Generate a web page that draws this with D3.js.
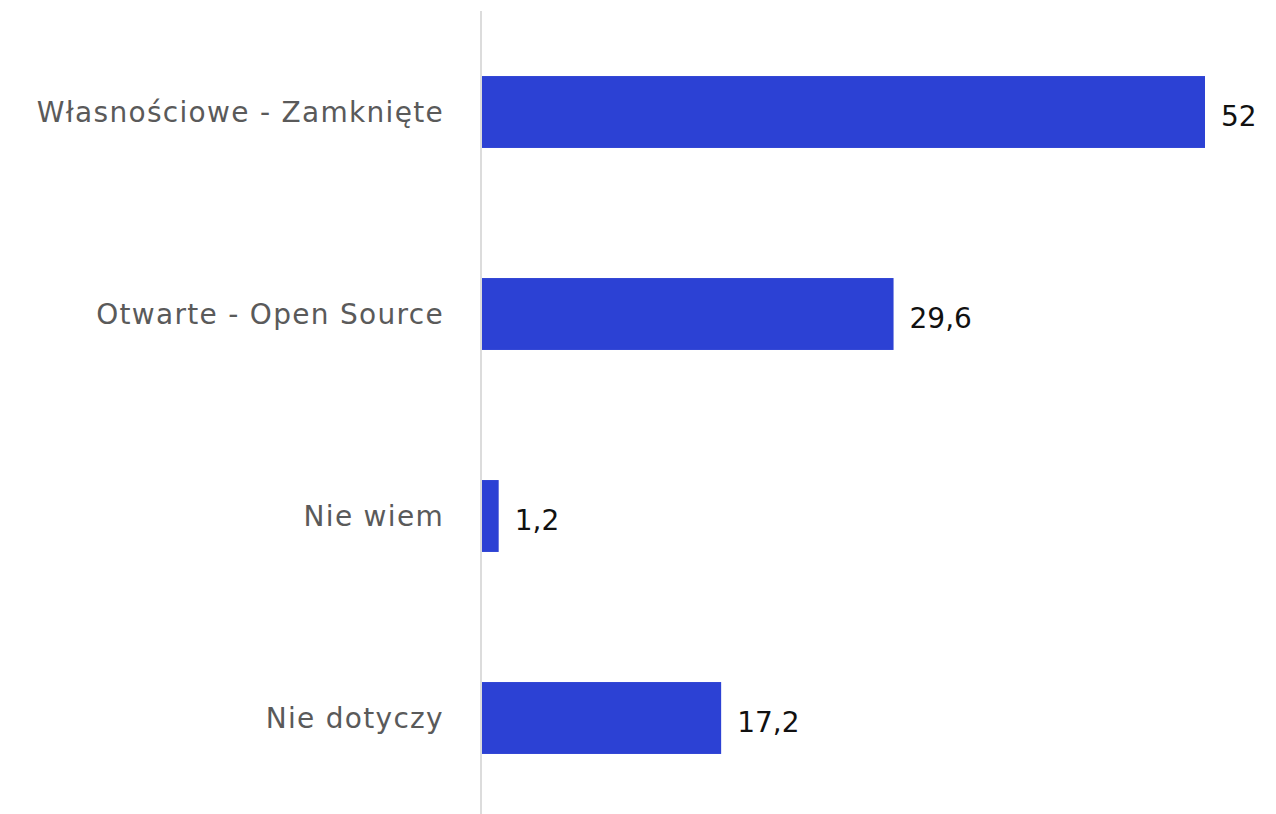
<!DOCTYPE html>
<meta charset="utf-8">
<title>Licencje</title>
<style>
  body { margin: 0; background: #fff; }
  .cat { fill: #5a5a5a; font-family: 'DejaVu Sans', sans-serif; font-size: 28px; letter-spacing: 1.3px; }
  .val { fill: #111; font-family: 'DejaVu Sans', sans-serif; font-size: 28px; }
</style>
<body>
<svg width="1276" height="814"></svg>
<script src="https://cdn.jsdelivr.net/npm/d3@7"></script>
<script>

var categories = ["Własnościowe - Zamknięte", "Otwarte - Open Source", "Nie wiem", "Nie dotyczy"];
var values = [52, 29.6, 1.2, 17.2];
var valueLabels = ["52", "29,6", "1,2", "17,2"];

var svg = d3.select("svg"),
    width = +svg.attr("width"),
    height = +svg.attr("height");

var x0 = 482;

var x = d3.scaleLinear()
    .domain([0, 52])
    .range([x0, 1205]);

var y = d3.scaleBand()
    .domain(categories)
    .range([11, 819])
    .paddingInner(0.644)
    .paddingOuter(0.322);

// bars
svg.selectAll(".bar")
    .data(values)
    .enter().append("rect")
    .attr("class", "bar")
    .attr("x", x(0))
    .attr("y", function(d, i) { return y(categories[i]); })
    .attr("width", function(d) { return x(d) - x(0); })
    .attr("height", y.bandwidth())
    .attr("fill", "#2c41d4");

// vertical axis line
svg.append("line")
    .attr("x1", x0 - 1).attr("x2", x0 - 1)
    .attr("y1", 11).attr("y2", height)
    .attr("stroke", "#dcdcdc")
    .attr("stroke-width", 2);

// category labels
svg.selectAll(".cat")
    .data(categories)
    .enter().append("text")
    .attr("class", "cat")
    .attr("x", x0 - 38)
    .attr("y", function(d) { return y(d) + y.bandwidth() / 2; })
    .attr("dy", "0.35em")
    .attr("text-anchor", "end")
    .text(function(d) { return d; });

// value labels
svg.selectAll(".val")
    .data(values)
    .enter().append("text")
    .attr("class", "val")
    .attr("x", function(d) { return x(d) + 16; })
    .attr("y", function(d, i) { return y(categories[i]) + y.bandwidth() / 2 + 4; })
    .attr("dy", "0.35em")
    .text(function(d, i) { return valueLabels[i]; });
</script>
</body>
